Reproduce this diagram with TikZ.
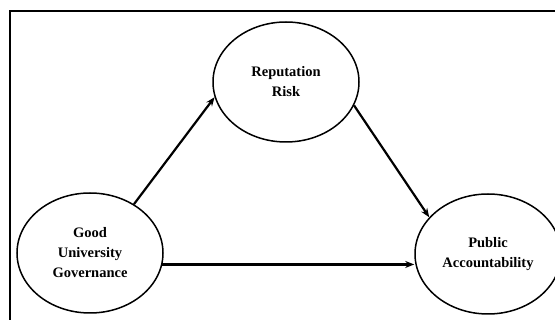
\documentclass[tikz,border=0pt]{standalone}
\usepackage{fontspec}
\setmainfont{Liberation Serif}
\usetikzlibrary{arrows.meta,shapes.geometric}
\tikzset{
  construct/.style={ellipse, draw=black, line width=1.5pt, minimum width=146pt, minimum height=120pt, inner sep=0pt, align=center, font=\fontsize{14.5}{20}\selectfont\bfseries},
  path/.style={line width=2.2pt, -{Stealth[length=9pt,width=7pt]}},
}
\begin{document}
\begin{tikzpicture}[x=1pt,y=-1pt]
\useasboundingbox (0,0) rectangle (555,320);
\fill[white] (0,0) rectangle (555,320);
\coordinate (frameA) at (9.5,11.5);
\coordinate (frameB) at (570,340);
\draw[line width=2pt] (frameA) rectangle (frameB);
\node[construct] (rep) at (286,82) {Reputation\\Risk};
\node[construct] (good) at (90,253) {Good\\University\\Governance};
\node[construct] (pub) at (488,254) {Public\\Accountability};
\draw[path] (good.48) -- (rep.192);
\draw[path] (rep.341) -- (pub.148);
\draw[path] (good.-9) -- (good.-9 -| pub.west);
\end{tikzpicture}
\end{document}
